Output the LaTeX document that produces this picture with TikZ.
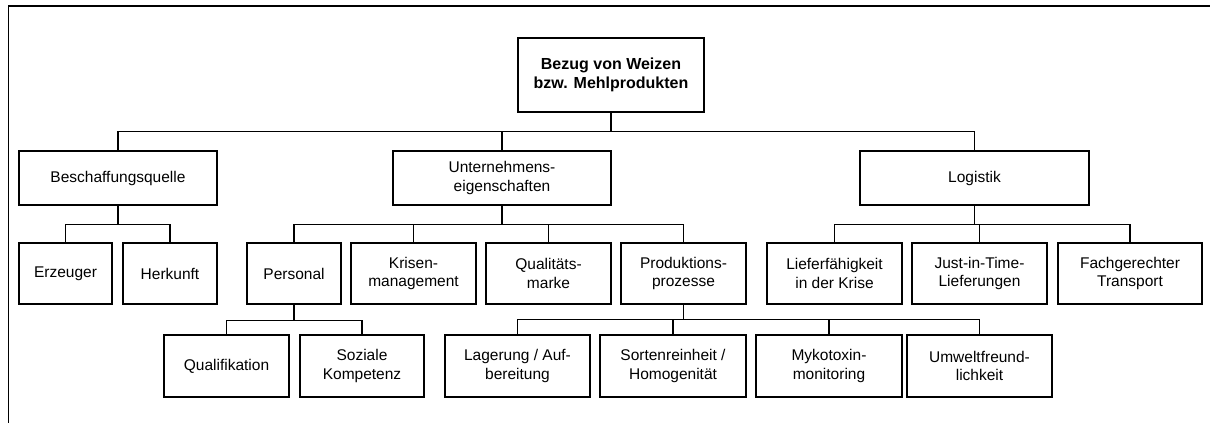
\documentclass[tikz,border=0pt]{standalone}
\usepackage{fontspec}
\setmainfont{Liberation Sans}
\begin{document}
\begin{tikzpicture}[x=1pt,y=-1pt,
  box/.style={draw, line width=1.3pt, rectangle, inner sep=0pt, align=center,
    font=\fontsize{15.5}{18.5}\selectfont},
  lvtwo/.style={box, minimum height=54pt},
  lvthree/.style={box, minimum height=61pt},
  lvfour/.style={box, minimum height=62pt},
  conn/.style={line width=1.1pt},
  thick conn/.style={line width=1.9pt},
  frame/.style={line width=1.6pt}]
\useasboundingbox (0,0) rectangle (1210,423);
\coordinate (ftr) at (1210,6);
\coordinate (fbl) at (8.5,423);
\draw[frame] (ftr) -- (8.5,6) -- (fbl);

\node[box, minimum width=186pt, minimum height=74pt, font=\fontsize{16}{19.3}\selectfont\bfseries] (root) at (611,75) {Bezug von Weizen\\bzw. Mehlprodukten};

\node[lvtwo, minimum width=198pt] (B) at (118,178) {Beschaffungsquelle};
\node[lvtwo, minimum width=218pt] (U) at (502,178) {Unternehmens-\\eigenschaften};
\node[lvtwo, minimum width=229pt] (L) at (974.5,178) {Logistik};

\node[lvthree, minimum width=93pt] (Erz) at (65.5,273.5) {Erzeuger};
\node[lvthree, minimum width=94pt] (Her) at (170,273.5) {Herkunft};
\node[lvthree, minimum width=94pt] (Per) at (294,273.5) {Personal};
\node[lvthree, minimum width=125pt] (Kri) at (413.5,273.5) {Krisen-\\management};
\node[lvthree, minimum width=125pt] (Qua) at (548.5,273.5) {Qualitäts-\\marke};
\node[lvthree, minimum width=125pt] (Pro) at (683.5,273.5) {Produktions-\\prozesse};
\node[lvthree, minimum width=135pt] (Lie) at (834.5,273.5) {Lieferfähigkeit\\in der Krise};
\node[lvthree, minimum width=135pt] (Jus) at (979.5,273.5) {Just-in-Time-\\Lieferungen};
\node[lvthree, minimum width=144pt] (Fac) at (1130,273.5) {Fachgerechter\\Transport};

\node[lvfour, minimum width=125pt] (Qlf) at (226.5,366) {Qualifikation};
\node[lvfour, minimum width=124pt] (Soz) at (362,366) {Soziale\\Kompetenz};
\node[lvfour, minimum width=145pt] (Lag) at (517.5,366) {Lagerung / Auf-\\bereitung};
\node[lvfour, minimum width=146pt] (Sor) at (673,366) {Sortenreinheit /\\Homogenität};
\node[lvfour, minimum width=146pt] (Myk) at (829,366) {Mykotoxin-\\monitoring};
\node[lvfour, minimum width=145pt] (Umw) at (979.5,366) {Umweltfreund-\\lichkeit};

% level 1 -> 2
\draw[thick conn] (root.south) -- ++(0,19) coordinate (b1);
\foreach \c in {B,U,L} \draw[conn] (b1) -| (\c.north);
% level 2 -> 3
\draw[conn] (B.south) -- ++(0,19) coordinate (b2);
\foreach \c in {Erz,Her} \draw[conn] (b2) -| (\c.north);
\draw[thick conn] (U.south) -- ++(0,19) coordinate (b3);
\foreach \c in {Per,Kri,Qua,Pro} \draw[conn] (b3) -| (\c.north);
\draw[thick conn] (L.south) -- ++(0,19) coordinate (b4);
\foreach \c in {Lie,Jus,Fac} \draw[conn] (b4) -| (\c.north);
% level 3 -> 4
\draw[conn] (Per.south) -- ++(0,16) coordinate (b5);
\foreach \c in {Qlf,Soz} \draw[conn] (b5) -| (\c.north);
\draw[thick conn] (Pro.south) -- ++(0,15) coordinate (b6);
\foreach \c in {Lag,Sor,Myk,Umw} \draw[conn] (b6) -| (\c.north);
\end{tikzpicture}
\end{document}
